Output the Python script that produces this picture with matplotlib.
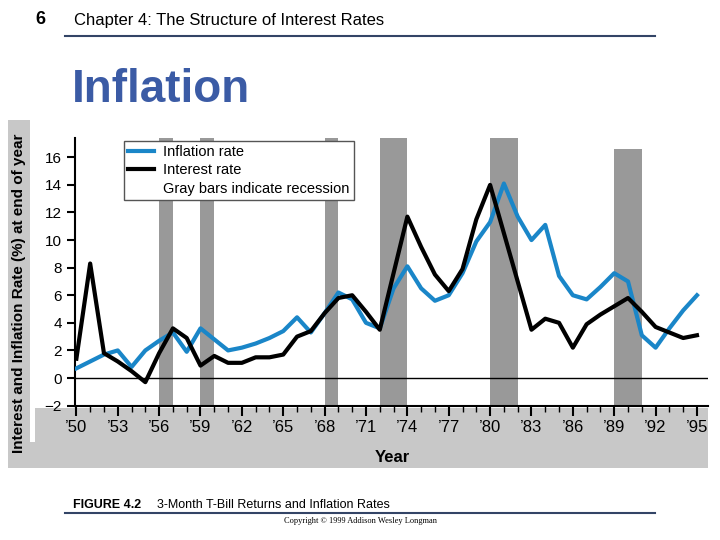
import matplotlib
matplotlib.use("Agg")
import matplotlib.pyplot as plt
from matplotlib.patches import Rectangle

plt.rcParams['font.family'] = ['Liberation Sans', 'DejaVu Sans']

years = list(range(1950, 1996))
inflation = [0.7,1.2,1.7,2.0,0.8,2.0,2.7,3.3,1.9,3.6,2.8,2.0,2.2,2.5,2.9,3.4,4.4,3.3,4.7,6.2,
             5.7,4.0,3.6,6.5,8.1,6.5,5.6,6.0,7.6,9.9,11.3,14.1,11.7,10.0,11.1,7.4,6.0,5.7,6.6,7.6,
             7.0,3.1,2.2,3.6,4.9,6.0]
interest = [1.4,8.3,1.8,1.2,0.5,-0.3,1.8,3.6,2.9,0.9,1.6,1.1,1.1,1.5,1.5,1.7,3.0,3.4,4.7,5.8,
            6.0,4.8,3.5,7.6,11.7,9.5,7.5,6.3,7.9,11.5,14.0,10.5,7.0,3.5,4.3,4.0,2.2,3.9,4.6,5.2,
            5.8,4.8,3.7,3.3,2.9,3.1]
recessions = [(1956.0,1957.0),(1959.0,1960.0),(1968.0,1969.0),(1972.0,1974.0),(1980.0,1982.0),(1989.0,1991.0)]
tick_years = list(range(1950, 1996, 3))
tick_labels = ["’%02d" % (y % 100) for y in tick_years]

fig = plt.figure(figsize=(7.2,5.4), dpi=100)
W,H = 720,540
def fx(p): return p/W
def fy(p): return 1-p/H

bg = fig.add_axes([0,0,1,1], zorder=-5)
bg.set_xlim(0,W); bg.set_ylim(H,0); bg.axis("off")
bg.add_patch(Rectangle((35,408), 708-35, 34, color="#c8c8c8", lw=0))
bg.add_patch(Rectangle((8,120), 22, 348, color="#c8c8c8", lw=0))
bg.add_patch(Rectangle((8,442), 700, 26, color="#c8c8c8", lw=0))
bg.plot([65,655],[36,36], color="#334466", lw=1.5)
bg.plot([65,655],[513,513], color="#334466", lw=1.5)

ax = fig.add_axes([fx(75), fy(405.6), fx(708-75), (405.6-138)/H], zorder=1)
ax.set_xlim(1949.9, 1995.8)
ax.set_ylim(-2, 17.4)
for a,b in recessions:
    top = 16.6 if a == 1989.0 else 17.4
    ax.fill_between([a,b], -2, top, color="#999999", lw=0, zorder=1)
ax.axhline(0, color="black", lw=1, zorder=2)
ax.plot(years, inflation, color="#1a86c8", lw=3, zorder=3, label="Inflation rate")
ax.plot(years, interest, color="black", lw=3, zorder=4, label="Interest rate")
ax.plot([], [], " ", label="Gray bars indicate recession")
leg = ax.legend(loc="upper left", bbox_to_anchor=(0.077, 0.99), fontsize=10.5, frameon=True, fancybox=False,
                edgecolor="#555555", handlelength=1.8, handletextpad=0.6, borderaxespad=0.0,
                framealpha=1, borderpad=0.3, labelspacing=0.3)
leg.get_frame().set_linewidth(1)
leg.set_zorder(10)
texts = leg.get_texts()
for sp in ["top","right"]:
    ax.spines[sp].set_visible(False)
ax.spines["left"].set_linewidth(1.5)
ax.spines["bottom"].set_linewidth(1.5)
ax.set_yticks(range(-2, 17, 2))
ax.set_xticks(tick_years)
ax.set_xticklabels(tick_labels, fontsize=12)
ax.set_xticks(years, minor=True)
ax.tick_params(axis="x", which="major", length=7, width=1.5)
ax.tick_params(axis="x", which="minor", length=4, width=1)
ax.tick_params(axis="y", length=6, width=1.5, labelsize=11)
ax.patch.set_alpha(0)

fig.text(fx(19), fy(293), "Interest and Inflation Rate (%) at end of year", rotation=90, ha="center", va="center", fontsize=11, fontweight="bold")
fig.text(fx(392), fy(457), "Year", ha="center", va="center", fontsize=12, fontweight="bold")
fig.text(fx(40), fy(20), "6", ha="center", va="center", fontsize=13, fontweight="bold")
fig.text(fx(74), fy(20), "Chapter 4: The Structure of Interest Rates", ha="left", va="center", fontsize=12)
fig.text(fx(72), fy(90), "Inflation", ha="left", va="center", fontsize=33, fontweight="bold", color="#3b5ba5")
fig.text(fx(73), fy(505), "FIGURE 4.2", ha="left", va="center", fontsize=9, fontweight="bold")
fig.text(fx(157), fy(505), "3-Month T-Bill Returns and Inflation Rates", ha="left", va="center", fontsize=9)
fig.text(fx(360), fy(521), "Copyright © 1999 Addison Wesley Longman", ha="center", va="center", fontsize=6, family="Liberation Serif")

fig.savefig("out.png", dpi=100)
